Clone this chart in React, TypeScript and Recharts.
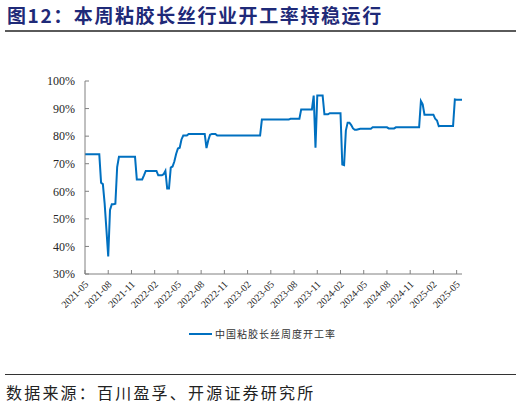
import React from "react";
import { LineChart, Line, XAxis, YAxis, Legend } from "recharts";

// Weekly operating rate (%) of China viscose filament industry, from 2021-05 (week 0) to 2025-06
const rateValues = [
  73.4, 73.4, 73.4, 73.4, 73.4, 73.4, 73.4, 73.4, 73.4,
  63.1, 62.6, 55.5, 46.0, 36.4, 53.2, 55.3, 55.3, 55.5, 68.8, 72.5,
  72.5, 72.5, 72.5, 72.5, 72.5, 72.5, 72.5, 72.5, 72.5,
  64.3, 64.3, 64.3, 64.3, 65.8, 67.4,
  67.4, 67.4, 67.4, 67.4, 67.4, 67.4,
  65.8, 65.8, 65.8, 66.2, 67.4, 61.0, 61.0, 68.6, 69.0, 70.8, 73.5, 75.5, 75.8, 78.8, 80.2, 80.2, 80.2,
  80.8, 80.8, 80.8, 80.8, 80.8, 80.8, 80.8, 80.8, 80.8,
  80.8, 75.7, 78.5, 80.5, 80.8, 80.8, 80.8,
  80.2, 80.2, 80.2, 80.2, 80.2, 80.2, 80.2, 80.2, 80.2, 80.2, 80.2, 80.2, 80.2,
  80.2, 80.2, 80.2, 80.2, 80.2, 80.2, 80.2, 80.2, 80.2, 80.2, 80.2, 80.2,
  86.0, 86.0, 86.0, 86.0, 86.0, 86.0, 86.0, 86.0, 86.0, 86.0, 86.0, 86.0, 86.0, 86.0, 86.0, 86.0,
  86.3, 86.3, 86.3, 86.3, 86.3, 86.3,
  89.7, 89.7, 89.7, 89.7, 89.7, 89.7, 89.7,
  94.7, 75.8, 94.7, 94.7, 94.7, 94.7,
  87.9, 87.9, 87.9, 88.3, 88.3, 88.3, 88.3, 88.3, 88.3, 88.3,
  69.7, 69.5, 82.0, 84.9, 84.9, 84.0, 82.8, 82.3, 82.3, 82.5, 82.7, 82.7, 82.7, 82.7, 82.7, 82.7, 82.7,
  83.2, 83.2, 83.2, 83.2, 83.2, 83.2, 83.2, 83.2, 83.2,
  82.8, 82.8, 82.8, 82.8,
  83.2, 83.2, 83.2, 83.2, 83.2, 83.2, 83.2, 83.2, 83.2, 83.2, 83.2, 83.2, 83.2, 83.2,
  92.7, 91.5, 87.8, 87.8, 87.8, 87.8, 87.8, 87.8, 86.3, 85.7, 83.6,
  83.7, 83.7, 83.7, 83.7, 83.7, 83.7, 83.7, 83.7,
  93.3, 93.2, 93.2, 93.2, 93.2,
];

const tickWeeks = [0, 13, 26, 39, 52, 65, 78, 91, 104, 117, 130, 143, 156, 169, 182, 195, 208];
const tickLabels = [
  "2021-05", "2021-08", "2021-11", "2022-02", "2022-05", "2022-08", "2022-11", "2023-02",
  "2023-05", "2023-08", "2023-11", "2024-02", "2024-05", "2024-08", "2024-11", "2025-02", "2025-05",
];
const yTicks = [30, 40, 50, 60, 70, 80, 90, 100];

const seriesName = "中国粘胶长丝周度开工率";
const titleText = "图12：本周粘胶长丝行业开工率持稳运行";
const sourceText = "数据来源：百川盈孚、开源证券研究所";

const data = rateValues.map((v, i) => ({ week: i, rate: v }));

const LINE_COLOR = "#0070C0";
const AXIS_COLOR = "#808080";

const XTick = (props: any) => {
  const { x, y, payload } = props;
  const i = tickWeeks.indexOf(payload.value);
  const ax = x + 4;
  const ay = y + 15;
  return (
    <text
      x={ax}
      y={ay}
      transform={`rotate(-45, ${ax}, ${ay})`}
      textAnchor="end"
      fontSize={10}
      fontFamily="'Liberation Serif', serif"
      fill="#262626"
    >
      {tickLabels[i]}
    </text>
  );
};

const LegendContent = () => (
  <div style={{ position: "relative", height: 30, width: 462 }}>
    <div
      style={{
        position: "absolute",
        left: 189,
        top: 17,
        width: 23,
        height: 2,
        background: LINE_COLOR,
      }}
    />
    <div
      style={{
        position: "absolute",
        left: 215,
        top: 12,
        fontSize: 10,
        lineHeight: "12px",
        letterSpacing: "1px",
        color: "#333",
        fontFamily: "'Noto Sans CJK SC', sans-serif",
        whiteSpace: "nowrap",
      }}
    >
      {seriesName}
    </div>
  </div>
);

export default function App() {
  return (
    <div
      style={{
        position: "absolute",
        left: 0,
        top: 0,
        width: 521,
        height: 405,
        background: "#fff",
        overflow: "hidden",
      }}
    >
      <div
        style={{
          position: "absolute",
          left: 7,
          top: 0,
          height: 30,
          lineHeight: "30px",
          fontSize: 19,
          fontWeight: 700,
          letterSpacing: "1.6px",
          color: "#1F2A78",
          fontFamily: "'Noto Sans CJK SC', sans-serif",
          whiteSpace: "nowrap",
        }}
      >
        {titleText}
      </div>
      <div
        style={{
          position: "absolute",
          left: 5,
          top: 30,
          width: 511,
          height: 1.5,
          background: "#5a5a5a",
        }}
      />
      <div style={{ position: "absolute", left: 0, top: 0 }}>
        <LineChart
          width={521}
          height={346}
          data={data}
          margin={{ top: 81, right: 59, left: 0, bottom: 0 }}
        >
          <XAxis
            dataKey="week"
            type="number"
            domain={[0, 211]}
            ticks={tickWeeks}
            interval={0}
            height={42}
            tickSize={-4}
            tickMargin={0}
            stroke={AXIS_COLOR}
            tickLine={{ stroke: AXIS_COLOR }}
            axisLine={{ stroke: AXIS_COLOR }}
            tick={<XTick />}
          />
          <YAxis
            type="number"
            domain={[30, 100]}
            ticks={yTicks}
            interval={0}
            width={85}
            tickSize={-4}
            tickMargin={14}
            stroke={AXIS_COLOR}
            tickLine={{ stroke: AXIS_COLOR }}
            axisLine={{ stroke: AXIS_COLOR }}
            tick={{ fontSize: 12, fontFamily: "'Liberation Serif', serif", fill: "#262626" }}
            tickFormatter={(v: number) => `${v}%`}
          />
          <Legend verticalAlign="bottom" content={<LegendContent />} />
          <Line
            type="linear"
            dataKey="rate"
            name={seriesName}
            stroke={LINE_COLOR}
            strokeWidth={2}
            dot={false}
            activeDot={false}
            isAnimationActive={false}
          />
        </LineChart>
      </div>
      <div
        style={{
          position: "absolute",
          left: 5,
          top: 374,
          width: 511,
          height: 1.3,
          background: "#333",
        }}
      />
      <div
        style={{
          position: "absolute",
          left: 6,
          top: 381,
          height: 22,
          lineHeight: "22px",
          fontSize: 16,
          letterSpacing: "2.2px",
          color: "#222",
          fontFamily: "'Noto Sans CJK SC', sans-serif",
          whiteSpace: "nowrap",
        }}
      >
        {sourceText}
      </div>
    </div>
  );
}
